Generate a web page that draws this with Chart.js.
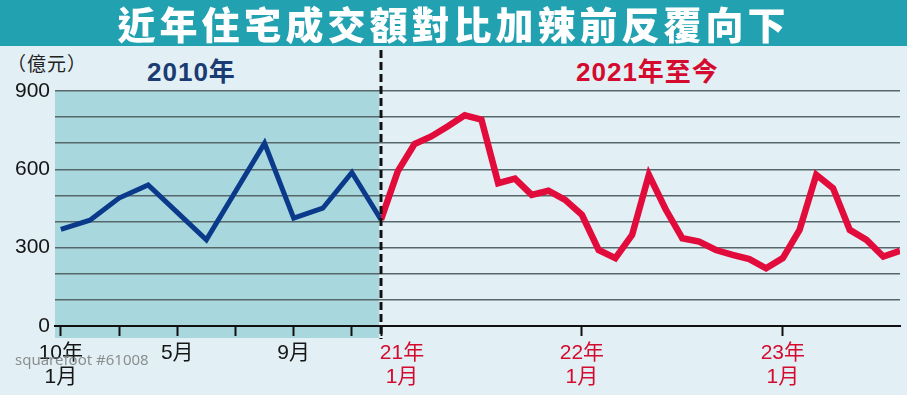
<!DOCTYPE html>
<html>
<head>
<meta charset="utf-8">
<script src="https://cdn.jsdelivr.net/npm/chart.js@4/dist/chart.umd.min.js"></script>
<style>
  html, body { margin: 0; padding: 0; }
  body {
    width: 907px; height: 395px; position: relative; overflow: hidden;
    background: #e2f0f5;
    font-family: 'Liberation Sans', 'Noto Sans CJK TC', sans-serif;
  }
  canvas { position: absolute; left: 0; top: 0; }
  .headline {
    position: absolute; left: 0; top: 0; width: 907px; height: 46px; z-index: 5;
    background: #22a1b1; color: #fff; text-align: center;
    font: 900 38px 'Noto Sans CJK TC'; line-height: 46px; letter-spacing: 4px;
  }
  .unit { position: absolute; left: 7px; top: 49px; font: 19px 'Noto Sans CJK TC'; color: #222; letter-spacing: 1px; }
  .period { position: absolute; top: 51px; font: bold 26px 'Liberation Sans', 'Noto Sans CJK TC'; letter-spacing: 1px; }
  .period.old { left: 147px; color: #1b3c72; }
  .period.new { left: 576px; color: #d40a2e; }
  .mark {
    position: absolute; left: 15px; top: 349px; z-index: 5;
    font: 15px 'Noto Sans', sans-serif; color: rgba(110, 110, 110, 0.75);
  }
</style>
</head>
<body>
<div class="headline">近年住宅成交額對比加辣前反覆向下</div>
<div class="unit">（億元）</div>
<div class="period old">2010年</div>
<div class="period new">2021年至今</div>
<canvas id="chart2010" width="907" height="395"></canvas>
<canvas id="chartNow" width="907" height="395"></canvas>
<div class="mark">squarefoot #61008</div>

<script>
// monthly residential sales, 億元 (2010 Jan–Dec, then 2021 Jan – 2023 Aug)
const VALUES_2010 = [370, 405, 490, 540, 435, 330, 515, 700, 413, 451, 588, 407];
const VALUES_SINCE_2021 = [
  407, 592, 697, 726, 765, 807, 790, 547, 564, 502, 518, 483,
  426, 291, 260, 349, 579, 447, 336, 323, 291, 272, 256, 221,
  260, 368, 579, 528, 368, 330, 266, 288
];

// x ticks are month indexes inside each period
const TICKS_2010 = [0, 2, 4, 6, 8, 10];
const TICK_LABELS_2010 = [['10年', '1月'], '', '5月', '', '9月', ''];
const TICKS_SINCE_2021 = [0, 12, 24];
const TICK_LABELS_SINCE_2021 = [['21年', '1月'], ['22年', '1月'], ['23年', '1月']];

const Y_MAX = 900;
const Y_STEP = 100;
const Y_LABELED = [0, 300, 600, 900];

const GRID = '#56676a';
const TICK_FONT = { family: "'Liberation Sans', 'Noto Sans CJK TC', sans-serif", size: 21, lineHeight: 1.15 };

const points = (vals) => vals.map((v, i) => ({ x: i, y: v }));

const shade2010 = {
  id: 'shade2010',
  beforeDraw(chart) {
    const { ctx, chartArea: a } = chart;
    ctx.save();
    ctx.fillStyle = '#a8d8de';
    ctx.fillRect(a.left, a.top, a.right - a.left - 2, a.bottom - a.top + 12);
    ctx.restore();
  }
};

const divider = {
  id: 'divider',
  afterDatasetsDraw(chart) {
    const { ctx, chartArea: a } = chart;
    const x = chart.scales.x.getPixelForValue(0);
    ctx.save();
    ctx.strokeStyle = '#111';
    ctx.lineWidth = 3;
    ctx.setLineDash([8, 4]);
    ctx.beginPath();
    ctx.moveTo(x, a.top - 41);
    ctx.lineTo(x, a.bottom + 13);
    ctx.stroke();
    ctx.restore();
  }
};

function yScale(showLabels, width) {
  return {
    min: 0, max: Y_MAX,
    afterFit(s) { s.width = width; },
    border: { display: false },
    grid: { color: GRID, lineWidth: 1.5, drawTicks: false },
    ticks: {
      display: showLabels,
      autoSkip: false,
      stepSize: Y_STEP,
      padding: 5,
      color: '#151515',
      font: { family: "'Liberation Sans', sans-serif", size: 21 },
      callback: (v) => (Y_LABELED.includes(v) ? v : '')
    }
  };
}

function xScale(min, max, ticks, labels, color) {
  return {
    type: 'linear', min, max,
    afterFit(s) { s.height = 69; },
    afterBuildTicks(s) { s.ticks = ticks.map((v) => ({ value: v })); },
    border: { display: true, color: '#111', width: 2 },
    grid: { drawOnChartArea: false, drawTicks: true, tickLength: 10, tickColor: '#111', tickWidth: 2 },
    ticks: {
      maxRotation: 0, autoSkip: false, padding: 5, color, font: TICK_FONT,
      callback: (v, i) => labels[i]
    }
  };
}

const baseOptions = {
  responsive: false,
  animation: false,
  plugins: { legend: { display: false }, tooltip: { enabled: false } },
  elements: { point: { radius: 0 }, line: { tension: 0, borderJoinStyle: 'miter', borderCapStyle: 'butt' } }
};

new Chart(document.getElementById('chart2010'), {
  type: 'line',
  data: {
    datasets: [{ data: points(VALUES_2010), borderColor: '#0b3a8b', borderWidth: 5 }]
  },
  options: {
    ...baseOptions,
    layout: { padding: { top: 91, right: 526, left: 0, bottom: 0 } },
    scales: {
      x: xScale(-0.2, 11, TICKS_2010, TICK_LABELS_2010, '#151515'),
      y: yScale(true, 55)
    }
  },
  plugins: [shade2010]
});

// first label sits to the right of the divider, so pad it with ideographic spaces
const nowLabels = TICK_LABELS_SINCE_2021.map((l, i) => (i === 0 ? l.map((s) => '\u3000\u3000' + s) : l));

new Chart(document.getElementById('chartNow'), {
  type: 'line',
  data: {
    datasets: [{ data: points(VALUES_SINCE_2021), borderColor: '#e20c3c', borderWidth: 6.5 }]
  },
  options: {
    ...baseOptions,
    layout: { padding: { top: 91, right: 7, left: 0, bottom: 0 } },
    scales: {
      x: xScale(0, VALUES_SINCE_2021.length - 1, TICKS_SINCE_2021, nowLabels, '#d40a2e'),
      y: yScale(false, 381)
    }
  },
  plugins: [divider]
});
</script>
</body>
</html>
